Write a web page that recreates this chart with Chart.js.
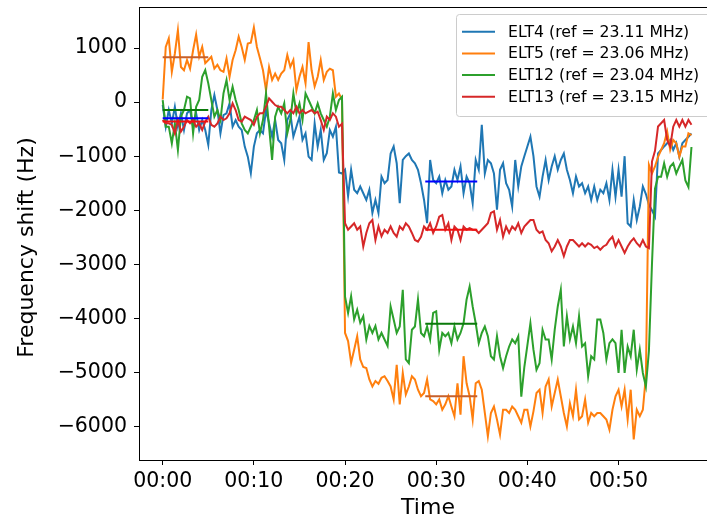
<!DOCTYPE html>
<html>
<head>
<meta charset="utf-8">
<script src="https://cdn.jsdelivr.net/npm/chart.js@4.4.1/dist/chart.umd.min.js"></script>
<style>
  html, body { margin: 0; padding: 0; background: #fff; overflow: hidden; }
  #wrap { width: 707px; height: 522px; overflow: hidden; position: relative; }
  #wrap canvas { position: absolute; left: 0; top: 0; }
</style>
</head>
<body>
<div id="wrap"><canvas id="myChart" width="730" height="522"></canvas></div>
<script>
// sampling: one reading every 20 s, starting at 00:00
var sampleStepMin = 20 / 60;

// Frequency shift (Hz) per element
var elt4 = [
  -50, -454, -146, -392, -85, -454, -207, -515, -207, -146,
  -454, -207, -515, -331, -515, -790, -146, 130, -146, -577,
  -240, -207, -23, -454, -331, -454, -515, -823, -1008, -1316,
  -823, -577, -515, -577, -146, -392, -638, -331, -700, -762,
  -1069, -331, -207, -638, -454, -269, -700, -577, -1008,
  -1069, -392, -823, -515, -1069, -946, -515, -638, -454, -1300,
  -1320, -1250, -1740, -1250, -1620, -1685, -1560, -1685, -1810, -1620,
  -2050, -1810, -2050, -1377, -1500, -1440, -950, -820, -1130, -1870,
  -1070, -1000, -950, -1070, -1130, -1250, -1500, -1810, -2240, -1070,
  -1440, -1500, -1377, -1685, -1440, -1620, -1560, -1250, -1440, -1190,
  -1685, -1377, -1500, -1870, -1070, -1250, -420, -1320, -1070, -1130,
  -1320, -1990, -1250, -1130, -1500, -1620, -1930, -1070, -1560, -1190,
  -1000, -820, -640, -1000, -1560, -1750, -1377, -1070, -1440, -1190,
  -1000, -1250, -1070, -950, -1250, -1440, -1685, -1377, -1560, -1500,
  -1685, -1560, -1810, -1560, -1810, -1620, -1685, -1500, -1810, -1250,
  -1750, -1250, -1750, -1000, -2240, -2300, -1810, -2180, -1930, -1560,
  -1700, -1900, -2000, -2120, -950, -885, -820, -760, -700, -885,
  -760, -1010, -760, -700, -640, -580
];
var elt5 = [
  50, 1020, 1180, 560, 900, 1330, 650, 590, 780, 620,
  960, 1250, 840, 1020, 720, 780, 840, 620, 690, 590,
  560, 810, 470, 780, 960, 1210, 1020, 780, 1085, 1100,
  1380, 1020, 810, 590, 220, 650, 410, 530, 410, 530,
  590, 870, 650, 780, 220, 470, 650, 350, 1110, 590,
  290, 470, 780, 410, 560, 620, 590, 100, 160, 50,
  -4270, -4420, -4820, -4580, -4330, -4760, -4900, -4920, -5130, -5260,
  -5160, -5210, -5100, -5070, -5160, -5260, -5500, -4860, -5590, -5010,
  -5410, -5260, -5070, -5130, -5320, -5440, -5380, -5130, -5500, -5530,
  -5590, -5500, -5690, -5590, -5440, -5630, -5810, -5200, -5780, -4700,
  -5200, -5440, -5870, -5200, -5160, -5320, -5750, -6180, -5750, -5630,
  -5870, -6150, -5690, -5690, -5750, -5630, -5690, -5810, -5930, -5690,
  -5690, -6000, -5720, -5380, -5320, -5750, -5260, -5130, -5630, -5380,
  -5130, -5440, -5750, -6000, -5570, -5810, -5320, -5870, -5810, -5500,
  -5930, -5750, -5810, -5750, -5750, -5810, -5870, -6060, -5690, -5440,
  -5320, -5630, -5320, -5870, -5320, -6240, -5690, -5810, -5690, -5070,
  -1160, -1320, -1190, -1010, -885, -760, -545, -885, -700, -760,
  -1010, -820, -820, -577, -610
];
var elt12 = [
  39, -454, -454, -762, -392, -885, -269, -146, 100, 70,
  -577, -85, 39, 470, 593, 347, 39, -269, -146, -331,
  162, 408, 39, 285, 39, -146, -392, -515, -577, -454,
  -331, -146, -577, -331, 162, -454, -1069, -269, -85, -207,
  -23, -577, -331, 162, -207, -23, -331, 162, 39, -85,
  -207, -23, -207, -331, -454, -269, 162, -146, 39, 100,
  -3600, -3900, -3590, -4020, -3840, -4080, -3960, -4390, -4140, -4270,
  -4140, -4390, -4270, -4390, -4510, -3780, -4020, -4270, -4150, -3470,
  -4760, -4830, -4210, -4150, -3650, -4270, -4330, -4150, -4390, -3900,
  -3870, -4580, -4270, -4330, -4270, -4460, -4150, -4390, -4270, -4090,
  -3650, -3410, -3780, -4090, -4460, -4270, -4150, -4330, -4700, -4760,
  -4330, -4700, -4920, -4700, -4520, -4390, -4460, -4330, -5450, -4900,
  -4500, -4090, -4580, -4950, -4830, -4210, -4390, -4390, -4760, -4210,
  -3780, -3470, -4520, -3960, -4390, -4150, -4460, -3960, -4520, -4460,
  -5070, -4700, -4760, -4020, -4020, -4270, -4760, -4460, -4390, -4460,
  -5010, -4210, -5010, -4520, -4700, -4210, -4950, -4580, -5010, -5260,
  -4600, -3000, -1600, -1380, -1380, -1130, -1380, -1190, -1130, -1320,
  -1190, -1070, -1450, -1570, -830
];
var elt13 = [
  -330, -392, -392, -420, -577, -331, -545, -454, -331, -392,
  -331, -454, -392, -515, -360, -269, -420, -454, -392, -269,
  -331, -300, -207, -23, -146, -331, -360, -269, -300, -331,
  -420, -269, -207, -207, -85, 70, 8, -54, -85, -85,
  -146, -207, -146, -207, -85, -207, -146, -207, -177, -146,
  -207, -177, -331, -515, -269, -331, -207, -269, -454, -400,
  -2240, -2360, -2300, -2240, -2360, -2300, -2670, -2420, -2240, -2180,
  -2550, -2300, -2480, -2360, -2420, -2300, -2420, -2490, -2300, -2360,
  -2240, -2300, -2420, -2550, -2580, -2490, -2300, -2360, -2240, -2420,
  -2300, -2120, -2090, -2360, -2240, -2550, -2300, -2360, -2550, -2300,
  -2360, -2330, -2360, -2360, -2420, -2360, -2300, -2240, -2050, -2020,
  -2360, -2180, -2490, -2300, -2420, -2300, -2360, -2240, -2420, -2300,
  -2240, -2180, -2180, -2360, -2420, -2390, -2550, -2610, -2760, -2670,
  -2550, -2670, -2850, -2670, -2550, -2550, -2610, -2670, -2610, -2670,
  -2610, -2640, -2700, -2670, -2730, -2670, -2640, -2550, -2490, -2670,
  -2550, -2670, -2790, -2670, -2580, -2520, -2610, -2670, -2550, -2670,
  -2700, -1100, -900, -450, -390, -330, -700, -820, -454, -330,
  -454, -330, -454, -330, -420
];

// averaging windows (minutes) and the mean of each element in them
var meanWindows = [[0, 5], [28.8, 34.5]];
var meanElt4 = [-300, -1470];
var meanElt5 = [830, -5440];
var meanElt12 = [-146, -4100];
var meanElt13 = [-360, -2360];

var seriesLabels = ["ELT4 (ref = 23.11 MHz)", "ELT5 (ref = 23.06 MHz)", "ELT12 (ref = 23.04 MHz)", "ELT13 (ref = 23.15 MHz)"];
var xTickValues = [0, 10, 20, 30, 40, 50];
var xTickLabels = ["00:00", "00:10", "00:20", "00:30", "00:40", "00:50"];
var yTickValues = [1000, 0, -1000, -2000, -3000, -4000, -5000, -6000];
var yTickLabels = ["1000", "0", "\u22121000", "\u22122000", "\u22123000", "\u22124000", "\u22125000", "\u22126000"];

var FONT = "'DejaVu Sans', sans-serif";

function toPoints(values) {
  return values.map(function (v, i) { return { x: i * sampleStepMin, y: v }; });
}
function meanPoints(means) {
  var pts = [];
  meanWindows.forEach(function (w, k) {
    if (k > 0) pts.push({ x: (meanWindows[k - 1][1] + w[0]) / 2, y: null });
    pts.push({ x: w[0], y: means[k] });
    pts.push({ x: w[1], y: means[k] });
  });
  return pts;
}

function line(label, values, color, order) {
  return { label: label, data: toPoints(values), borderColor: color, backgroundColor: color,
    borderWidth: 2, pointRadius: 0, fill: false, tension: 0, order: order };
}
function meanLine(means, color) {
  return { label: "mean", data: meanPoints(means), borderColor: color, borderWidth: 2,
    pointRadius: 0, fill: false, spanGaps: false, order: 0, isMean: true };
}

// frame around the axes + boxed legend like matplotlib
var framePlugin = {
  id: "frame",
  afterDatasetsDraw: function (chart) {
    var a = chart.chartArea, ctx = chart.ctx;
    ctx.save();
    ctx.strokeStyle = "#000";
    ctx.lineWidth = 1;
    ctx.strokeRect(Math.round(a.left) + 0.5, Math.round(a.top) + 0.5, Math.round(a.right - a.left), Math.round(a.bottom - a.top));
    ctx.restore();
  },
  afterDraw: function (chart) {
    var ctx = chart.ctx;
    var items = chart.data.datasets.filter(function (d) { return !d.isMean; });
    var boxX = 456.5, boxY = 14.5, boxW = 262, boxH = 102, r = 3;
    ctx.save();
    ctx.beginPath();
    ctx.moveTo(boxX + r, boxY);
    ctx.arcTo(boxX + boxW, boxY, boxX + boxW, boxY + boxH, r);
    ctx.arcTo(boxX + boxW, boxY + boxH, boxX, boxY + boxH, r);
    ctx.arcTo(boxX, boxY + boxH, boxX, boxY, r);
    ctx.arcTo(boxX, boxY, boxX + boxW, boxY, r);
    ctx.closePath();
    ctx.fillStyle = "rgba(255,255,255,0.8)";
    ctx.fill();
    ctx.strokeStyle = "#cccccc";
    ctx.lineWidth = 1;
    ctx.stroke();
    ctx.font = "15.7px " + FONT;
    ctx.textBaseline = "middle";
    ctx.fillStyle = "#000";
    items.forEach(function (d, k) {
      var y = 31.7 + k * 21.7;
      ctx.beginPath();
      ctx.strokeStyle = d.borderColor;
      ctx.lineWidth = 2;
      ctx.moveTo(462, y);
      ctx.lineTo(495, y);
      ctx.stroke();
      ctx.fillText(d.label, 508, y + 1);
    });
    ctx.restore();
  }
};

var ctx = document.getElementById("myChart");
var myChart = new Chart(ctx, {
  type: "line",
  data: {
    datasets: [
      meanLine(meanElt4, "#0000ff"),
      meanLine(meanElt5, "#c8602a"),
      meanLine(meanElt12, "#0a7a0a"),
      meanLine(meanElt13, "#f01010"),
      line(seriesLabels[0], elt4, "#1f77b4", 4),
      line(seriesLabels[1], elt5, "#ff7f0e", 3),
      line(seriesLabels[2], elt12, "#2ca02c", 2),
      line(seriesLabels[3], elt13, "#d62728", 1)
    ]
  },
  options: {
    responsive: false,
    animation: false,
    layout: { padding: { left: 0, right: 13, top: 7, bottom: 0 } },
    plugins: { legend: { display: false }, tooltip: { enabled: false } },
    scales: {
      x: {
        type: "linear",
        min: -2.6,
        max: 60.8,
        afterBuildTicks: function (s) { s.ticks = xTickValues.map(function (v) { return { value: v }; }); },
        afterFit: function (s) { s.height = 62; s.paddingLeft = 0; s.paddingRight = 0; },
        grid: { drawOnChartArea: false, drawTicks: true, tickLength: 5, color: "#000", lineWidth: 1 },
        border: { display: true, color: "#000", width: 1 },
        ticks: {
          padding: 4, color: "#000", maxRotation: 0, autoSkip: false,
          font: { family: FONT, size: 20.5 },
          callback: function (v) { return xTickLabels[xTickValues.indexOf(v)]; }
        },
        title: { display: true, text: "Time", color: "#000", font: { family: FONT, size: 22 }, padding: { top: 0, bottom: 1 } }
      },
      y: {
        min: -6620,
        max: 1760,
        afterBuildTicks: function (s) { s.ticks = yTickValues.map(function (v) { return { value: v }; }); },
        afterFit: function (s) { s.width = 139; s.paddingTop = 0; s.paddingBottom = 0; },
        grid: { drawOnChartArea: false, drawTicks: true, tickLength: 5, color: "#000", lineWidth: 1 },
        border: { display: true, color: "#000", width: 1 },
        ticks: {
          padding: 7, color: "#000", autoSkip: false,
          font: { family: FONT, size: 20.5 },
          callback: function (v) { return yTickLabels[yTickValues.indexOf(v)]; }
        },
        title: { display: true, text: "Frequency shift (Hz)    ", color: "#000", font: { family: FONT, size: 22 }, padding: { top: 14, bottom: 0 } }
      }
    }
  },
  plugins: [framePlugin]
});
</script>
</body>
</html>
